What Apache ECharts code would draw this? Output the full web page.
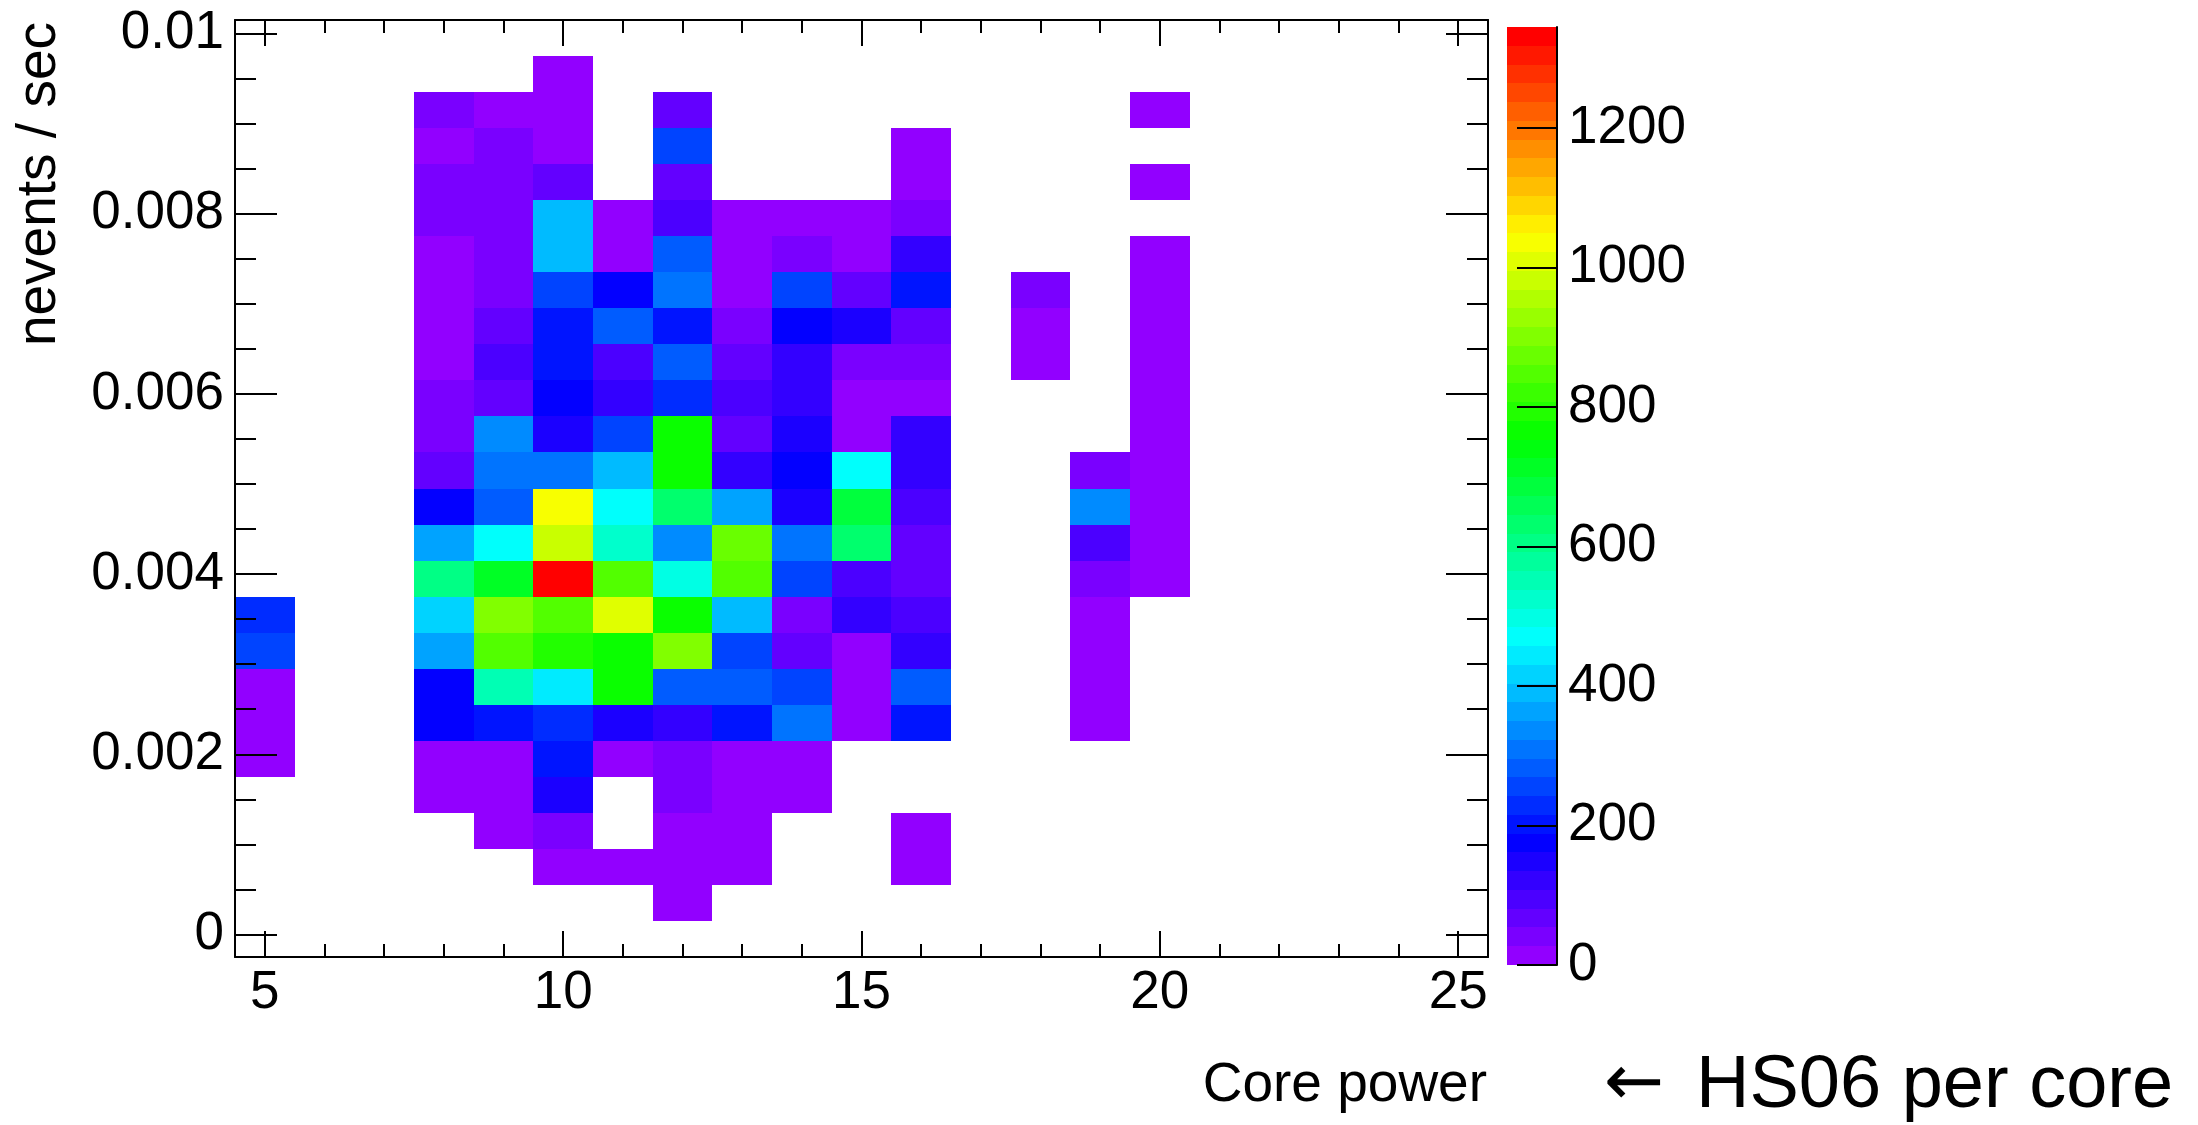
<!DOCTYPE html>
<html>
<head>
<meta charset="utf-8">
<title>Core power vs nevents / sec</title>
<script src="https://cdn.jsdelivr.net/npm/echarts@6.0.0/dist/echarts.min.js"></script>
<style>
  html, body { margin: 0; padding: 0; background: #fff; }
  #chart { width: 2198px; height: 1125px; }
</style>
</head>
<body>
<div id="chart"></div>
<script>
// bin centres (x bins are 1 wide, y bins 0.0004 high)
const xBins = [5, 6, 7, 8, 9, 10, 11, 12, 13, 14, 15, 16, 17, 18, 19, 20]
// top row first, same order as the rows of counts
const yBins = [
  0.00955, 0.00915, 0.00875, 0.00835, 0.00795, 0.00755, 0.00715, 0.00675,
  0.00635, 0.00595, 0.00555, 0.00515, 0.00475, 0.00435, 0.00395, 0.00355,
  0.00315, 0.00275, 0.00235, 0.00195, 0.00155, 0.00115, 0.00075, 0.00035
]
const counts = [
  [0, 0, 0, 0, 0, 13, 0, 0, 0, 0, 0, 0, 0, 0, 0, 0],
  [0, 0, 0, 40, 13, 13, 0, 67, 0, 0, 0, 0, 0, 0, 0, 13],
  [0, 0, 0, 13, 40, 13, 0, 255, 0, 0, 0, 13, 0, 0, 0, 0],
  [0, 0, 0, 40, 40, 67, 0, 67, 0, 0, 0, 13, 0, 0, 0, 13],
  [0, 0, 0, 40, 40, 390, 13, 94, 13, 13, 13, 40, 0, 0, 0, 0],
  [0, 0, 0, 13, 40, 390, 13, 282, 13, 50, 13, 121, 0, 0, 0, 13],
  [0, 0, 0, 13, 40, 255, 175, 309, 13, 255, 67, 202, 0, 40, 0, 13],
  [0, 0, 0, 13, 67, 202, 270, 202, 40, 175, 148, 67, 0, 13, 0, 13],
  [0, 0, 0, 13, 94, 202, 94, 282, 67, 121, 40, 40, 0, 13, 0, 13],
  [0, 0, 0, 40, 67, 175, 121, 229, 94, 121, 13, 13, 0, 0, 0, 13],
  [0, 0, 0, 40, 336, 148, 255, 757, 67, 148, 13, 121, 0, 0, 0, 13],
  [0, 0, 0, 67, 309, 309, 377, 757, 121, 175, 458, 121, 0, 0, 40, 13],
  [0, 0, 0, 175, 282, 1036, 458, 640, 363, 148, 680, 94, 0, 0, 330, 13],
  [0, 0, 0, 363, 458, 982, 518, 330, 880, 309, 638, 67, 0, 0, 94, 13],
  [0, 0, 0, 600, 718, 1345, 855, 498, 855, 255, 94, 67, 0, 0, 40, 13],
  [229, 0, 0, 417, 909, 847, 1009, 767, 390, 40, 121, 94, 0, 0, 13, 0],
  [255, 0, 0, 363, 847, 794, 757, 895, 255, 67, 13, 121, 0, 0, 13, 0],
  [13, 0, 0, 175, 551, 444, 757, 270, 270, 255, 13, 282, 0, 0, 13, 0],
  [13, 0, 0, 175, 202, 229, 148, 121, 202, 300, 13, 202, 0, 0, 13, 0],
  [13, 0, 0, 13, 13, 202, 13, 40, 13, 13, 0, 0, 0, 0, 0, 0],
  [0, 0, 0, 13, 13, 148, 0, 40, 13, 13, 0, 0, 0, 0, 0, 0],
  [0, 0, 0, 0, 13, 40, 0, 13, 13, 0, 0, 13, 0, 0, 0, 0],
  [0, 0, 0, 0, 0, 13, 13, 13, 13, 0, 0, 13, 0, 0, 0, 0],
  [0, 0, 0, 0, 0, 0, 0, 13, 0, 0, 0, 0, 0, 0, 0, 0]
]
const zMax = 1345
const xTicks = [5, 10, 15, 20, 25]
const yTicks = [0, 0.002, 0.004, 0.006, 0.008, 0.01]
const zTicks = [0, 200, 400, 600, 800, 1000, 1200]

const X_HALF = 0.5
const Y_HALF = 0.0002
const FONT = '"Liberation Sans", Arial, Helvetica, sans-serif'
const BLACK = '#000'

// minor tick positions
const xMinor = []
for (let v = 5; v <= 25; v++) xMinor.push(v)
const yMinor = []
for (let i = 0; i <= 20; i++) yMinor.push(i * 5 / 10000)

// ROOT "pretty palette": 50 hues from violet to red
const nColors = 50
const palette = []
for (let i = 0; i < nColors; i++) {
  palette.push(`hsl(${280 - (i + 1) * 5.6}, 100%, 50%)`)
}
const step = zMax / nColors
const pieces = palette.map((color, i) => {
  const p = { gte: i * step, color: color }
  if (i === nColors - 1) p.lte = zMax
  else p.lt = (i + 1) * step
  return p
})

// non-empty cells only
const cellData = []
yBins.forEach((y, r) => {
  xBins.forEach((x, c) => {
    if (counts[r][c] > 0) cellData.push([x, y, counts[r][c]])
  })
})

// colour bar bands
const barData = palette.map((_, i) => [i * step, (i + 1) * step, (i + 0.5) * step])

function tickLine () {
  return { color: BLACK, width: 2 }
}

function frameAxis (position, ticks, length, labels, extra) {
  return Object.assign({
    type: 'value',
    gridIndex: 0,
    position: position,
    z: 10,
    axisLine: { show: labels !== undefined, onZero: false, lineStyle: { color: BLACK, width: 2 } },
    axisTick: { show: true, inside: true, length: length, customValues: ticks, lineStyle: tickLine() },
    axisLabel: labels ? labels : { show: false },
    splitLine: { show: false },
    minorTick: { show: false }
  }, extra)
}

const xRange = { min: 4.5, max: 25.5 }
const yRange = { min: -0.00025, max: 0.01015 }

const labelStyle = {
  color: BLACK,
  fontSize: 53,
  fontFamily: FONT,
  formatter: v => String(v)
}

function plainText (x, y, text, size, align, family) {
  return {
    type: 'text',
    x: x,
    y: y,
    style: {
      text: text,
      fontSize: size,
      fontFamily: family || FONT,
      fill: BLACK,
      align: align,
      textAlign: align,
      verticalAlign: 'middle',
      textVerticalAlign: 'middle'
    }
  }
}

const option = {
  animation: false,
  backgroundColor: '#fff',
  grid: [
    { left: 235, top: 20, width: 1253, height: 937, outerBoundsMode: 'none', containLabel: false },
    { left: 1507, top: 27, width: 50, height: 938, outerBoundsMode: 'none', containLabel: false }
  ],
  xAxis: [
    frameAxis('bottom', xTicks, 26, Object.assign({ customValues: xTicks, margin: 10 }, labelStyle), xRange),
    frameAxis('bottom', xMinor, 13, undefined, xRange),
    frameAxis('top', xTicks, 26, { show: false }, xRange),
    frameAxis('top', xMinor, 13, undefined, xRange),
    { type: 'value', gridIndex: 1, min: 0, max: 1, show: false }
  ],
  yAxis: [
    frameAxis('left', yTicks, 42, Object.assign({ customValues: yTicks, margin: 11 }, labelStyle), yRange),
    frameAxis('left', yMinor, 21, undefined, yRange),
    frameAxis('right', yTicks, 42, { show: false }, yRange),
    frameAxis('right', yMinor, 21, undefined, yRange),
    {
      type: 'value',
      gridIndex: 1,
      position: 'right',
      min: 0,
      max: zMax,
      z: 10,
      axisLine: { show: true, onZero: false, lineStyle: { color: BLACK, width: 2 } },
      axisTick: { show: true, inside: true, length: 40, customValues: zTicks, lineStyle: tickLine() },
      axisLabel: Object.assign({ customValues: zTicks, margin: 11 }, labelStyle),
      splitLine: { show: false }
    }
  ],
  visualMap: {
    type: 'piecewise',
    show: false,
    dimension: 2,
    seriesIndex: [0, 1],
    pieces: pieces
  },
  series: [
    {
      name: 'cells',
      type: 'custom',
      xAxisIndex: 0,
      yAxisIndex: 0,
      dimensions: ['x', 'y', 'z'],
      encode: { x: 0, y: 1 },
      data: cellData,
      renderItem: function (params, api) {
        const p0 = api.coord([api.value(0) - X_HALF, api.value(1) + Y_HALF])
        const p1 = api.coord([api.value(0) + X_HALF, api.value(1) - Y_HALF])
        const x0 = Math.round(p0[0])
        const y0 = Math.round(p0[1])
        return {
          type: 'rect',
          shape: { x: x0, y: y0, width: Math.round(p1[0]) - x0, height: Math.round(p1[1]) - y0 },
          style: { fill: api.visual('color') }
        }
      }
    },
    {
      name: 'palette',
      type: 'custom',
      xAxisIndex: 4,
      yAxisIndex: 4,
      dimensions: ['lo', 'hi', 'z'],
      encode: { y: [0, 1] },
      data: barData,
      renderItem: function (params, api) {
        const p0 = api.coord([0, api.value(1)])
        const p1 = api.coord([1, api.value(0)])
        const y0 = Math.round(p0[1])
        return {
          type: 'rect',
          shape: { x: p0[0], y: y0, width: p1[0] - p0[0], height: Math.round(p1[1]) - y0 },
          style: { fill: api.visual('color') }
        }
      }
    }
  ],
  graphic: [
    {
      type: 'text',
      x: 40,
      y: 22,
      rotation: Math.PI / 2,
      style: {
        text: 'nevents / sec',
        fontSize: 55,
        fontFamily: FONT,
        fill: BLACK,
        align: 'right',
        textAlign: 'right',
        verticalAlign: 'middle',
        textVerticalAlign: 'middle'
      }
    },
    plainText(1487, 1086, 'Core power', 55, 'right'),
    plainText(1604, 1086, '\u2190', 72, 'left', '"DejaVu Sans", sans-serif'),
    plainText(1696, 1087, 'HS06 per core', 74, 'left')
  ]
}

const chart = echarts.init(document.getElementById('chart'), null, { renderer: 'canvas' })
chart.setOption(option)
</script>
</body>
</html>
